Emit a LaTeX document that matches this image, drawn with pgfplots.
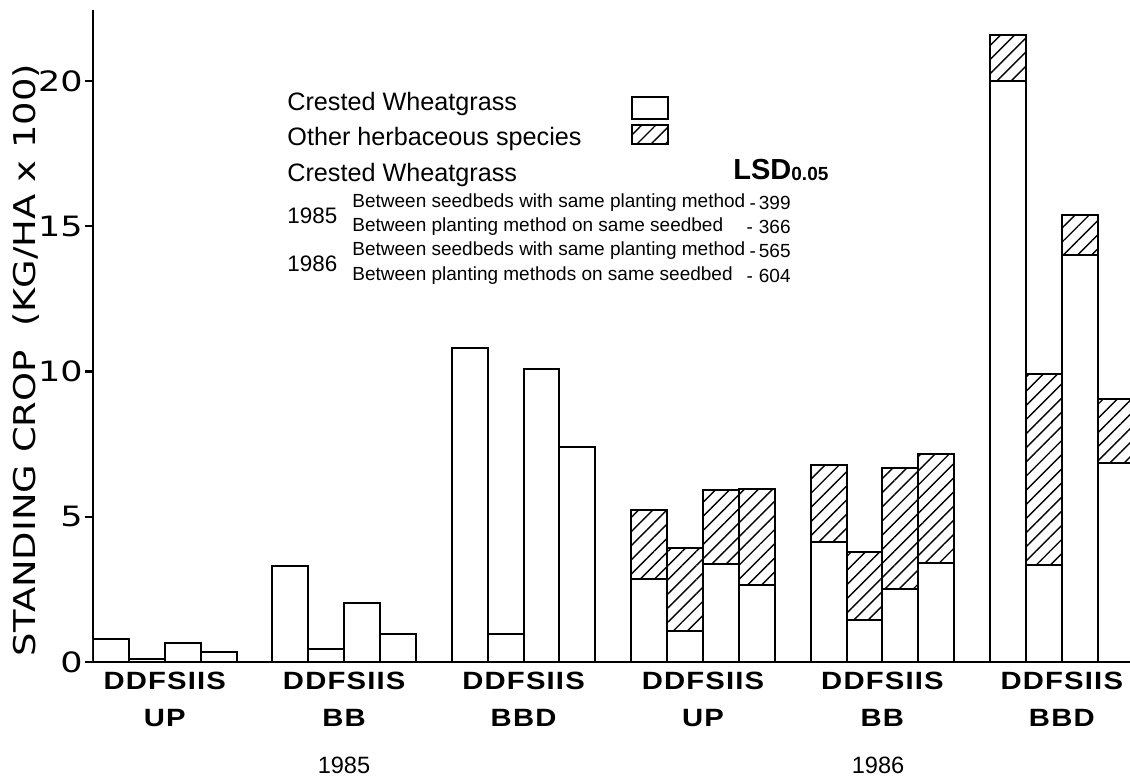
\documentclass[border=0pt]{standalone}
\usepackage{fontspec}
\setmainfont{Liberation Sans}
\newfontfamily\lightfont{DejaVu Sans}
\newfontfamily\lblfont[LetterSpace=4]{Liberation Sans}
\usepackage{graphicx}
\usepackage{pgfplots}
\usepackage{pgfplotstable}
\pgfplotsset{compat=1.18}
\usetikzlibrary{patterns.meta}
\newcommand\wide[1]{\scalebox{1.25}[1]{#1}}
\newcommand\wideb[1]{\scalebox{1.17}[1]{#1}}

\pgfplotstableread{
x white
0.5 0.80
1.5 0.10
2.5 0.66
3.5 0.33
5.5 3.30
6.5 0.46
7.5 2.04
8.5 0.95
10.5 10.82
11.5 0.97
12.5 10.10
13.5 7.40
15.5 2.87
16.5 1.08
17.5 3.37
18.5 2.65
20.5 4.12
21.5 1.45
22.5 2.52
23.5 3.40
25.5 20.00
26.5 3.35
27.5 14.00
28.5 6.85
}\whitetab

\pgfplotstableread{
x total
15.5 5.25
16.5 3.93
17.5 5.92
18.5 5.95
20.5 6.78
21.5 3.80
22.5 6.68
23.5 7.15
25.5 21.60
26.5 9.90
27.5 15.40
28.5 9.05
}\totaltab

\begin{document}
\begin{tikzpicture}
\begin{axis}[
  name=ax, at={(0,0)}, anchor=south west,
  scale only axis, width=518.5pt, height=326pt,
  xmin=0, xmax=28.9, ymin=0, ymax=22.45,
  axis x line=bottom, axis y line=left,
  axis line style={-, line width=1.3pt, black},
  ytick={0,5,10,15,20},
  yticklabels={\wide{0},\wide{5},\wide{10},\wide{15},\wide{20}},
  yticklabel style={font=\lightfont\fontsize{14}{14}\selectfont, inner sep=1pt},
  tick align=outside, major tick length=4pt,
  tick style={line width=1.1pt, black},
  xtick={2,7,12,17,22,27},
  xticklabels={
    {\wideb{DDFSIIS}\\[3.5pt]\wideb{UP}},
    {\wideb{DDFSIIS}\\[3.5pt]\wideb{BB}},
    {\wideb{DDFSIIS}\\[3.5pt]\wideb{BBD}},
    {\wideb{DDFSIIS}\\[3.5pt]\wideb{UP}},
    {\wideb{DDFSIIS}\\[3.5pt]\wideb{BB}},
    {\wideb{DDFSIIS}\\[3.5pt]\wideb{BBD}}},
  xticklabel style={align=center, font=\lblfont\bfseries\fontsize{12.5}{15}\selectfont, inner sep=1pt},
  x tick style={draw=none},
  ybar, bar width=1,
]
\addplot[bar shift=0pt, draw=black, line width=1pt,
  pattern={Lines[angle=45,distance=5pt,line width=0.7pt]}] table[x=x,y=total]{\totaltab};
\addplot[bar shift=0pt, draw=black, line width=1pt, fill=white] table[x=x,y=white]{\whitetab};
\end{axis}

% y label
\node[rotate=90, font=\lightfont\fontsize{15}{15}\selectfont] at ([xshift=-33.5pt,yshift=151pt]ax.south west)
  {\scalebox{1.23}[1]{STANDING CROP\ \ (KG/HA x 100)}};

% years
\node[font=\fontsize{11.8}{14}\selectfont] at ([xshift=125.5pt,yshift=-51.5pt]ax.south west) {1985};
\node[font=\fontsize{11.8}{14}\selectfont] at ([xshift=392.5pt,yshift=-51.5pt]ax.south west) {1986};

% legend block
\begin{scope}[every node/.style={anchor=west, inner sep=0pt}]
\node[font=\fontsize{12.6}{15}\selectfont] at ([xshift=97pt,yshift=279pt]ax.south west) {Crested Wheatgrass};
\node[font=\fontsize{12.6}{15}\selectfont] at ([xshift=97pt,yshift=261.5pt]ax.south west) {Other herbaceous species};
\node[font=\fontsize{12.6}{15}\selectfont] at ([xshift=97pt,yshift=243.5pt]ax.south west) {Crested Wheatgrass};
\node at ([xshift=320pt,yshift=246pt]ax.south west) {{\bfseries\fontsize{14.5}{16}\selectfont LSD}\raisebox{-0.6pt}{\bfseries\fontsize{9.5}{11}\selectfont 0.05}};
\node[font=\fontsize{11.2}{14}\selectfont] at ([xshift=97pt,yshift=223pt]ax.south west) {1985};
\node[font=\fontsize{11.2}{14}\selectfont] at ([xshift=97pt,yshift=199pt]ax.south west) {1986};
\node[font=\fontsize{9.5}{12}\selectfont] at ([xshift=129.5pt,yshift=229.5pt]ax.south west) {Between seedbeds with same planting method};
\node[font=\fontsize{9.5}{12}\selectfont] at ([xshift=129.5pt,yshift=217.5pt]ax.south west) {Between planting method on same seedbed};
\node[font=\fontsize{9.5}{12}\selectfont] at ([xshift=129.5pt,yshift=205.5pt]ax.south west) {Between seedbeds with same planting method};
\node[font=\fontsize{9.5}{12}\selectfont] at ([xshift=129.5pt,yshift=193pt]ax.south west) {Between planting methods on same seedbed};
\end{scope}
\begin{scope}[every node/.style={inner sep=0pt, anchor=east, font=\fontsize{9.5}{12}\selectfont}]
\node at ([xshift=349pt,yshift=229.5pt]ax.south west) {-\kern1.5pt399};
\node at ([xshift=349pt,yshift=217.5pt]ax.south west) {-\kern3pt366};
\node at ([xshift=349pt,yshift=205.5pt]ax.south west) {-\kern1.5pt565};
\node at ([xshift=349pt,yshift=193pt]ax.south west) {-\kern3pt604};
\end{scope}
\draw[line width=0.9pt, fill=white] ([xshift=269.5pt,yshift=271.5pt]ax.south west) rectangle ([xshift=287.5pt,yshift=282.5pt]ax.south west);
\draw[line width=0.9pt, pattern={Lines[angle=45,distance=5pt,line width=0.7pt]}] ([xshift=269.5pt,yshift=259pt]ax.south west) rectangle ([xshift=287.5pt,yshift=268.5pt]ax.south west);

\pgfresetboundingbox
\path ([xshift=-46.5pt,yshift=-59.5pt]ax.south west) rectangle ([yshift=5pt]ax.north east);
\end{tikzpicture}
\end{document}
